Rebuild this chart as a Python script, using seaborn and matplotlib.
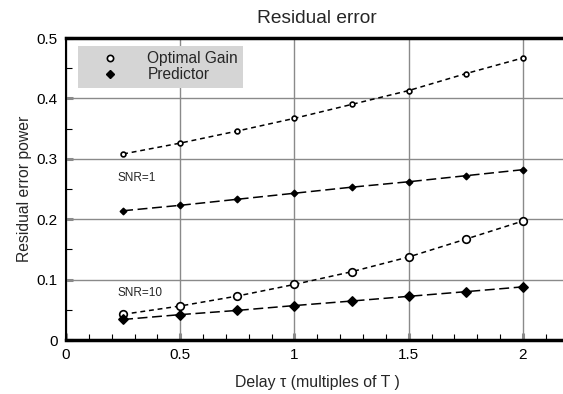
import numpy as np
import pandas as pd
import matplotlib
matplotlib.use("Agg")
import matplotlib.pyplot as plt
import seaborn as sns
from matplotlib.ticker import MultipleLocator
from matplotlib.lines import Line2D

delay = [0.25, 0.5, 0.75, 1.0, 1.25, 1.5, 1.75, 2.0]
opt_snr1 = [0.308, 0.326, 0.346, 0.367, 0.390, 0.413, 0.441, 0.467]
pred_snr1 = [0.214, 0.223, 0.233, 0.243, 0.253, 0.262, 0.272, 0.282]
opt_snr10 = [0.0425, 0.0563, 0.0728, 0.092, 0.113, 0.1375, 0.167, 0.197]
pred_snr10 = [0.034, 0.042, 0.049, 0.057, 0.0645, 0.0723, 0.080, 0.088]

sns.set_theme(style="white")
plt.rcParams['font.family'] = ['Liberation Sans', 'DejaVu Sans']

fig = plt.figure(figsize=(5.63, 3.94), dpi=100)
ax = fig.add_axes([66/563, 1-340/394, 1-66/563 + 0.01, (340-38)/394])

def draw(y, marker, ms, dashes, face):
    df = pd.DataFrame({"x": delay, "y": y})
    sns.lineplot(data=df, x="x", y="y", ax=ax, color="black", lw=1.1,
                 dashes=False, marker=None, linestyle=(0, dashes), zorder=3)
    sns.scatterplot(data=df, x="x", y="y", ax=ax, marker=marker, s=ms,
                    facecolor=face, edgecolor="black", linewidth=1.2, zorder=4)

draw(opt_snr1, "o", 12, (3.2, 2.5), "white")
draw(pred_snr1, "D", 10, (6.5, 3), "black")
draw(opt_snr10, "o", 30, (3.2, 2.5), "white")
draw(pred_snr10, "D", 22, (6.5, 3), "black")

ax.set_xlim(0, 2.2)
ax.set_ylim(0, 0.5)
ax.xaxis.set_minor_locator(MultipleLocator(0.1))
ax.yaxis.set_minor_locator(MultipleLocator(0.05))
ax.set_xticks([0, 0.5, 1, 1.5, 2])
ax.set_xticklabels(["0", "0.5", "1", "1.5", "2"])
ax.set_yticks([0, 0.1, 0.2, 0.3, 0.4, 0.5])
ax.set_yticklabels(["0", "0.1", "0.2", "0.3", "0.4", "0.5"])
ax.grid(True, which="major", color="#8a8a8a", lw=1.0, zorder=1)
ax.tick_params(which="major", direction="in", length=5, width=2.2, color="#8a8a8a",
               labelsize=11, labelcolor="black", left=True, bottom=True, pad=6)
ax.tick_params(which="minor", direction="in", length=4, width=0.8, color="black",
               left=True, bottom=True)
ax.spines["left"].set_linewidth(1.5)
for s in ["top", "bottom"]:
    ax.spines[s].set_linewidth(2.5)
for s in ["left", "top", "bottom"]:
    ax.spines[s].set_color("black")
ax.spines["right"].set_visible(False)

ax.set_xlabel("Delay \u03c4 (multiples of T )", fontsize=11.4, labelpad=9)
ax.set_ylabel("Residual error power", fontsize=11.3, labelpad=3)
ax.set_title("Residual error", fontsize=13.8, pad=11)

ax.text(0.225, 0.268, "SNR=1", fontsize=8.5, va="center", ha="left")
ax.text(0.225, 0.077, "SNR=10", fontsize=8.5, va="center", ha="left")

handles = [Line2D([], [], ls="none", marker="o", ms=4.5, mfc="white", mec="black", mew=1.2),
           Line2D([], [], ls="none", marker="D", ms=4, mfc="black", mec="black")]
leg = ax.legend(handles, ["Optimal Gain", "Predictor"], loc="upper left",
                bbox_to_anchor=(0.024, 0.9735), frameon=True, fancybox=False,
                fontsize=11.2, handletextpad=0.7, borderpad=0.35, labelspacing=0.05,
                handlelength=3.4, borderaxespad=0)
leg.get_frame().set_facecolor("#d5d5d5")
leg.get_frame().set_edgecolor("none")
leg.get_frame().set_alpha(1)

fig.savefig("out.png", dpi=100)
